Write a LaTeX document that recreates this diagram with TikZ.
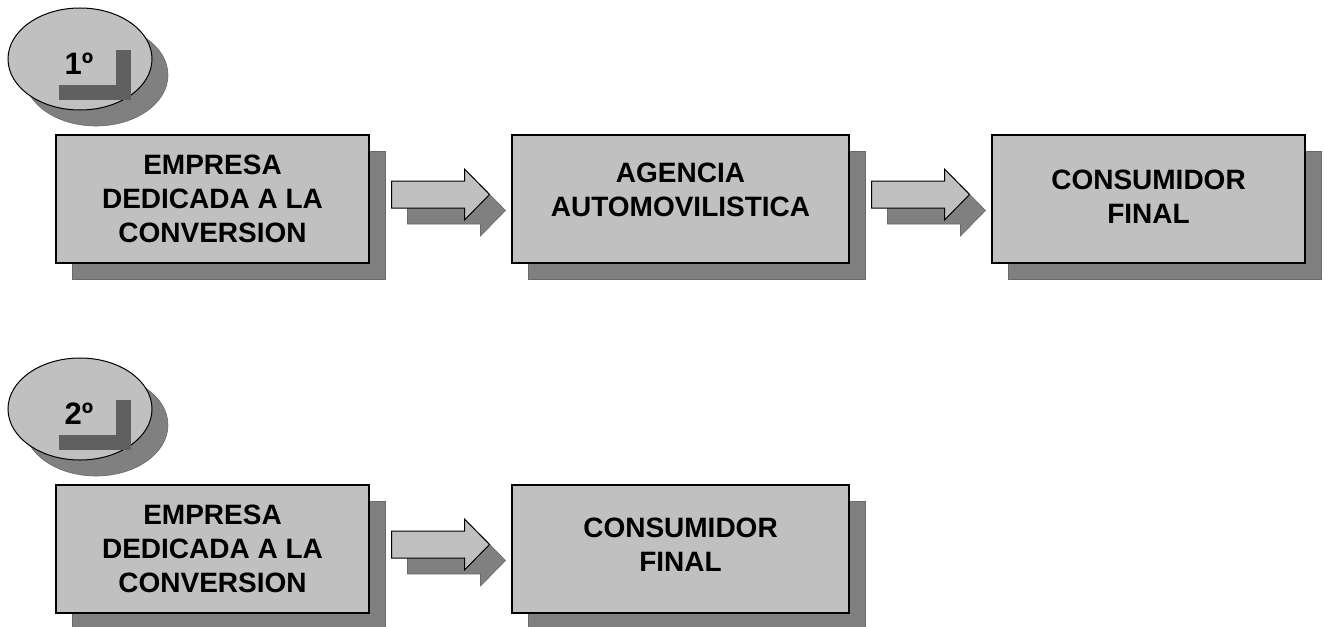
\documentclass[tikz,border=0pt]{standalone}
\usepackage{fontspec}
\setmainfont{Liberation Sans}
\usetikzlibrary{shapes.geometric,shadows,calc}
\definecolor{relleno}{HTML}{C0C0C0}
\definecolor{sombra}{HTML}{808080}
\definecolor{bordesombra}{HTML}{6A6A6A}
\definecolor{marca}{HTML}{606060}
\tikzset{
  consombra/.style={drop shadow={shadow xshift=16pt, shadow yshift=-16pt,
      fill=sombra, draw=bordesombra, line width=0.6pt, opacity=1}},
  caja/.style={rectangle, draw, line width=1.2pt, fill=relleno, consombra,
      minimum height=128pt, inner sep=0pt, align=center,
      font=\bfseries\fontsize{28}{34}\selectfont},
  paso/.style={ellipse, draw, line width=1pt, fill=relleno, consombra,
      minimum width=144pt, minimum height=102pt, inner sep=0pt},
  numero/.style={font=\bfseries\fontsize{31}{34}\selectfont, inner sep=0pt},
  flecha/.pic={
    \path[draw, line width=1pt, fill=relleno, consombra]
      (-49,-13.5) -- (24,-13.5) -- (24,-25.5) -- (49,0) -- (24,25.5)
      -- (24,13.5) -- (-49,13.5) -- cycle;
  }
}
\begin{document}
\begin{tikzpicture}[x=1pt,y=-1pt]
	\useasboundingbox (0,0) rectangle (1324,626);
	% primera cadena
	\node[paso] (paso1) at (80,59) {};
	\fill[marca] ($(paso1)+(36,-9)$) rectangle ($(paso1)+(51,41)$);
	\fill[marca] ($(paso1)+(-21,26)$) rectangle ($(paso1)+(51,41)$);
	\node[numero] (num1) at ($(paso1)+(-1,5)$) {1º};
	\node[caja, minimum width=313pt] (emp1) at (212.5,199) {EMPRESA\\DEDICADA A LA\\CONVERSION};
	\node[caja, minimum width=337pt, text depth=18pt] (age1) at (680.5,199) {AGENCIA\\AUTOMOVILISTICA};
	\node[caja, minimum width=313pt, text depth=4pt] (con1) at (1148.5,199) {CONSUMIDOR\\FINAL};
	\pic at ($($(emp1.east)!0.5!(age1.west)$)+(0,-4.5)$) {flecha};
	\pic at ($($(age1.east)!0.5!(con1.west)$)+(0,-4.5)$) {flecha};
	% segunda cadena
	\node[paso] (paso2) at (80,409) {};
	\fill[marca] ($(paso2)+(36,-9)$) rectangle ($(paso2)+(51,41)$);
	\fill[marca] ($(paso2)+(-21,26)$) rectangle ($(paso2)+(51,41)$);
	\node[numero] (num2) at ($(paso2)+(-1,5)$) {2º};
	\node[caja, minimum width=313pt] (emp2) at (212.5,549) {EMPRESA\\DEDICADA A LA\\CONVERSION};
	\node[caja, minimum width=337pt, text depth=8pt] (con2) at (680.5,549) {CONSUMIDOR\\FINAL};
	\pic at ($($(emp2.east)!0.5!(con2.west)$)+(0,-4.5)$) {flecha};
\end{tikzpicture}
\end{document}
